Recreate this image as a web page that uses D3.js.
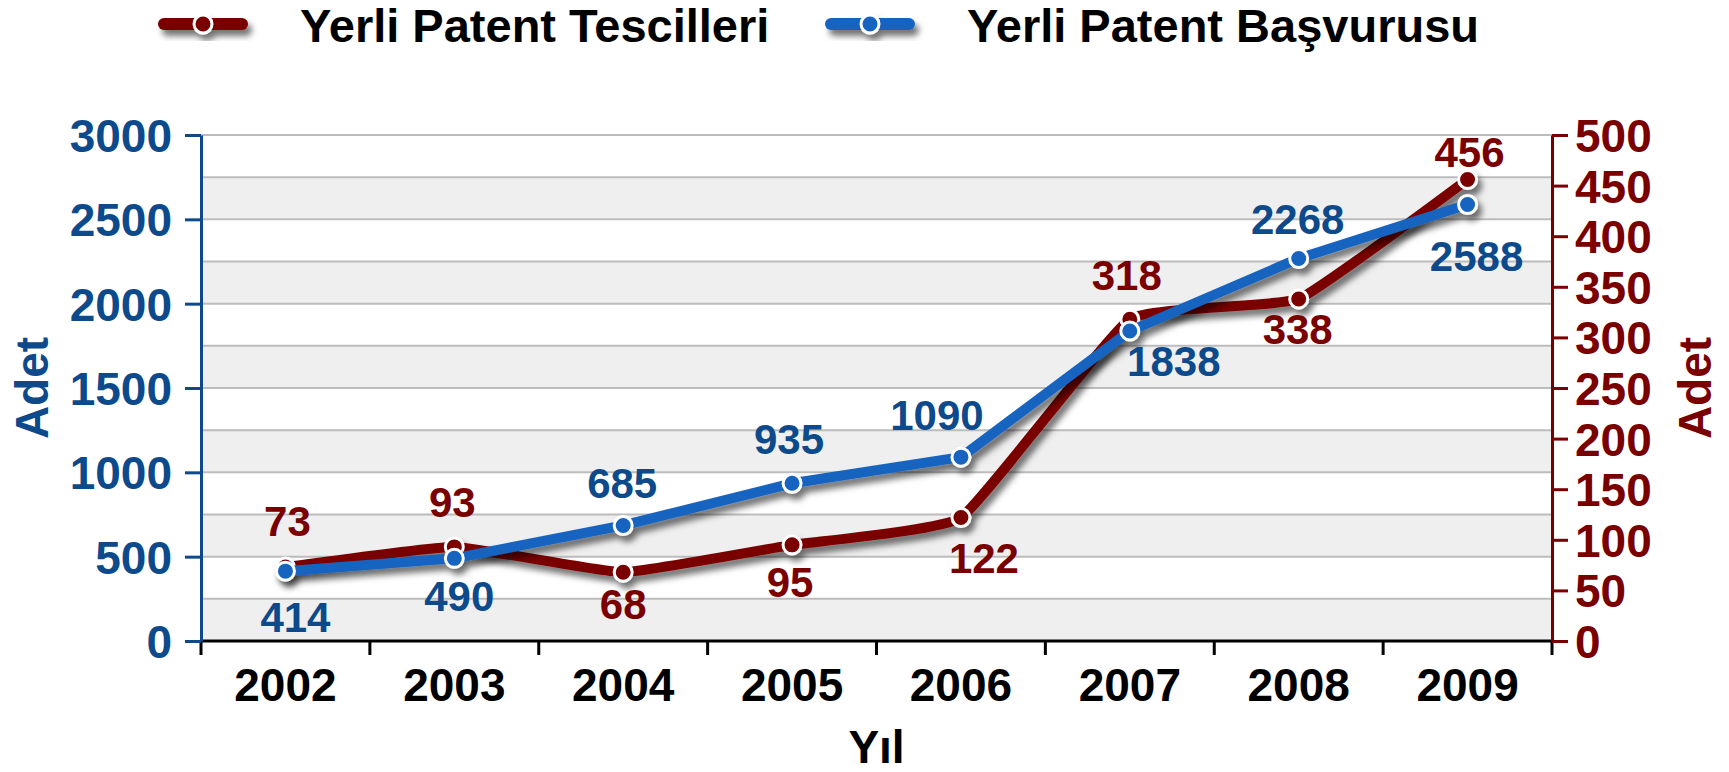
<!DOCTYPE html>
<html>
<head>
<meta charset="utf-8">
<script src="https://cdn.jsdelivr.net/npm/d3@7"></script>
<style>
  body { margin: 0; background: #fff; }
  text { font-family: "Liberation Sans", Arial, sans-serif; font-weight: bold; }
</style>
</head>
<body>
<svg id="drawing_region"></svg>
<script>
const years = ['2002', '2003', '2004', '2005', '2006', '2007', '2008', '2009'];
const tescil = [73, 93, 68, 95, 122, 318, 338, 456];
const basvuru = [414, 490, 685, 935, 1090, 1838, 2268, 2588];
const leftTicks = [0, 500, 1000, 1500, 2000, 2500, 3000];
const rightTicks = [0, 50, 100, 150, 200, 250, 300, 350, 400, 450, 500];
const gridValues = [0, 250, 500, 750, 1000, 1250, 1500, 1750, 2000, 2250, 2500, 2750, 3000];
const seriesNames = ['Yerli Patent Tescilleri', 'Yerli Patent Başvurusu'];

// label offsets from each point (layout only)
const tescilLabelPos = [[2,-46],[-2,-45],[0,32],[-2,37],[23,40],[-3,-44],[-1,30],[2,-28]];
const basvuruLabelPos = [[10,46],[5,38],[-1,-43],[-3,-44],[-24,-42],[44,30],[-1,-40],[9,51]];

const RED = '#7a0000';
const BLUE_LINE = '#1764c0';
const BLUE_TEXT = '#0d4a8c';

var config = {
    parent: '#drawing_region',
    width: 1729,
    height: 772,
    margin: {top:135, right:177, bottom:131, left:201}
};

class PatentChart {

    constructor( config ) {
        this.config = config;
        this.init();
    }

    init() {
        let self = this;

        self.svg = d3.select( self.config.parent )
            .attr('width', self.config.width)
            .attr('height', self.config.height);

        let defs = self.svg.append('defs');
        defs.append('filter')
            .attr('id', 'shadow')
            .attr('x', '-20%').attr('y', '-20%')
            .attr('width', '140%').attr('height', '160%')
            .append('feDropShadow')
            .attr('dx', 4).attr('dy', 6)
            .attr('stdDeviation', 3)
            .attr('flood-color', '#000')
            .attr('flood-opacity', 0.55);

        self.inner_width = self.config.width - self.config.margin.left - self.config.margin.right;
        self.inner_height = self.config.height - self.config.margin.top - self.config.margin.bottom;

        self.chart = self.svg.append('g')
            .attr('transform', `translate(${self.config.margin.left}, ${self.config.margin.top})`);

        self.xscale = d3.scaleBand()
            .domain( years )
            .range( [0, self.inner_width] );

        self.yleft = d3.scaleLinear()
            .domain( [0, 3000] )
            .range( [self.inner_height, 0] );

        self.yright = d3.scaleLinear()
            .domain( [0, 500] )
            .range( [self.inner_height, 0] );
    }

    render() {
        let self = this;
        const h = self.inner_height;

        // alternating bands
        self.chart.selectAll('.band')
            .data( gridValues.slice(0, -1) )
            .enter()
            .append('rect')
            .attr('x', 0)
            .attr('width', self.inner_width)
            .attr('y', (d, i) => self.yleft( gridValues[i+1] ))
            .attr('height', (d, i) => self.yleft( d ) - self.yleft( gridValues[i+1] ))
            .attr('fill', (d, i) => i % 2 == 0 ? '#efefef' : '#ffffff');

        self.chart.selectAll('.grid')
            .data( gridValues.slice(1) )
            .enter()
            .append('line')
            .attr('x1', 0)
            .attr('x2', self.inner_width)
            .attr('y1', d => self.yleft( d ))
            .attr('y2', d => self.yleft( d ))
            .attr('stroke', '#bcbcbc')
            .attr('stroke-width', 2);

        // x axis
        const xaxis = d3.axisBottom( self.xscale )
            .tickSize(0)
            .tickPadding(27);
        const xg = self.chart.append('g')
            .attr('transform', `translate(0, ${h})`)
            .call( xaxis );
        xg.select('.domain').remove();
        xg.selectAll('text')
            .attr('font-size', '46px')
            .attr('fill', '#000');

        const bounds = years.map( d => self.xscale( d ) ).concat( [self.inner_width] );
        self.chart.selectAll('.xtick')
            .data( bounds )
            .enter()
            .append('line')
            .attr('x1', d => d).attr('x2', d => d)
            .attr('y1', h).attr('y2', h + 14)
            .attr('stroke', '#000')
            .attr('stroke-width', 3);

        self.chart.append('line')
            .attr('x1', 0).attr('x2', self.inner_width)
            .attr('y1', h).attr('y2', h)
            .attr('stroke', '#000')
            .attr('stroke-width', 3);

        // left axis
        const lg = self.chart.append('g')
            .call( d3.axisLeft( self.yleft ).tickValues( leftTicks ).tickFormat( d3.format('d') )
                .tickSize(16).tickSizeOuter(0).tickPadding(13) );
        lg.select('.domain').attr('stroke', BLUE_TEXT).attr('stroke-width', 3);
        lg.selectAll('line').attr('stroke', BLUE_TEXT).attr('stroke-width', 3);
        lg.selectAll('text').attr('font-size', '46px').attr('fill', BLUE_TEXT).attr('dy', '0.36em');

        // right axis
        const rg = self.chart.append('g')
            .attr('transform', `translate(${self.inner_width}, 0)`)
            .call( d3.axisRight( self.yright ).tickValues( rightTicks ).tickFormat( d3.format('d') )
                .tickSize(16).tickSizeOuter(0).tickPadding(7) );
        rg.select('.domain').attr('stroke', RED).attr('stroke-width', 3);
        rg.selectAll('line').attr('stroke', RED).attr('stroke-width', 3);
        rg.selectAll('text').attr('font-size', '46px').attr('fill', RED).attr('dy', '0.36em');

        // axis titles
        self.svg.append('text')
            .attr('transform', `translate(48, ${self.config.margin.top + h/2}) rotate(-90)`)
            .attr('text-anchor', 'middle')
            .attr('font-size', '46px')
            .attr('fill', BLUE_TEXT)
            .text('Adet');

        self.svg.append('text')
            .attr('transform', `translate(1711, ${self.config.margin.top + h/2}) rotate(-90)`)
            .attr('text-anchor', 'middle')
            .attr('font-size', '46px')
            .attr('fill', RED)
            .text('Adet');

        self.svg.append('text')
            .attr('x', self.config.margin.left + self.inner_width/2)
            .attr('y', 763)
            .attr('text-anchor', 'middle')
            .attr('font-size', '46px')
            .attr('fill', '#000')
            .text('Yıl');

        const cx = d => self.xscale( d ) + self.xscale.bandwidth()/2;

        // red series (lightly smoothed)
        const redLine = d3.line()
            .x( (d, i) => cx( years[i] ) )
            .y( d => self.yright( d ) )
            .curve( d3.curveCardinal.tension(0.65) );

        const blueLine = d3.line()
            .x( (d, i) => cx( years[i] ) )
            .y( d => self.yleft( d ) );

        const rs = self.chart.append('g').attr('filter', 'url(#shadow)');
        rs.append('path')
            .attr('d', redLine( tescil ))
            .attr('fill', 'none')
            .attr('stroke', RED)
            .attr('stroke-width', 10)
            .attr('stroke-linejoin', 'round');
        rs.selectAll('circle')
            .data( tescil )
            .enter()
            .append('circle')
            .attr('cx', (d, i) => cx( years[i] ))
            .attr('cy', d => self.yright( d ))
            .attr('r', 9)
            .attr('fill', RED)
            .attr('stroke', '#fff')
            .attr('stroke-width', 3);

        const bs = self.chart.append('g').attr('filter', 'url(#shadow)');
        bs.append('path')
            .attr('d', blueLine( basvuru ))
            .attr('fill', 'none')
            .attr('stroke', BLUE_LINE)
            .attr('stroke-width', 10)
            .attr('stroke-linejoin', 'round');
        bs.selectAll('circle')
            .data( basvuru )
            .enter()
            .append('circle')
            .attr('cx', (d, i) => cx( years[i] ))
            .attr('cy', d => self.yleft( d ))
            .attr('r', 9)
            .attr('fill', BLUE_LINE)
            .attr('stroke', '#fff')
            .attr('stroke-width', 3);

        // data labels
        self.chart.selectAll('.rlabel')
            .data( tescil )
            .enter()
            .append('text')
            .attr('x', (d, i) => cx( years[i] ) + tescilLabelPos[i][0])
            .attr('y', (d, i) => self.yright( d ) + tescilLabelPos[i][1])
            .attr('dy', '0.36em')
            .attr('text-anchor', 'middle')
            .attr('font-size', '42px')
            .attr('fill', RED)
            .text( d => d );

        self.chart.selectAll('.blabel')
            .data( basvuru )
            .enter()
            .append('text')
            .attr('x', (d, i) => cx( years[i] ) + basvuruLabelPos[i][0])
            .attr('y', (d, i) => self.yleft( d ) + basvuruLabelPos[i][1])
            .attr('dy', '0.36em')
            .attr('text-anchor', 'middle')
            .attr('font-size', '42px')
            .attr('fill', BLUE_TEXT)
            .text( d => d );

        // legend
        const legend = [
            {name: seriesNames[0], color: RED, x: 158},
            {name: seriesNames[1], color: BLUE_LINE, x: 825}
        ];
        const lgd = self.svg.selectAll('.legend')
            .data( legend )
            .enter()
            .append('g')
            .attr('transform', d => `translate(${d.x}, 24)`);
        const mk = lgd.append('g').attr('filter', 'url(#shadow)');
        mk.append('line')
            .attr('x1', 6).attr('x2', 84)
            .attr('y1', 0).attr('y2', 0)
            .attr('stroke', d => d.color)
            .attr('stroke-width', 12)
            .attr('stroke-linecap', 'round');
        mk.append('circle')
            .attr('cx', 45).attr('cy', 0)
            .attr('r', 9)
            .attr('fill', d => d.color)
            .attr('stroke', '#fff')
            .attr('stroke-width', 3);
        lgd.append('text')
            .attr('x', 142)
            .attr('y', 18)
            .attr('font-size', '47px')
            .attr('fill', '#000')
            .text( d => d.name );
    }
}

const chart = new PatentChart( config );
chart.render();
</script>
</body>
</html>
